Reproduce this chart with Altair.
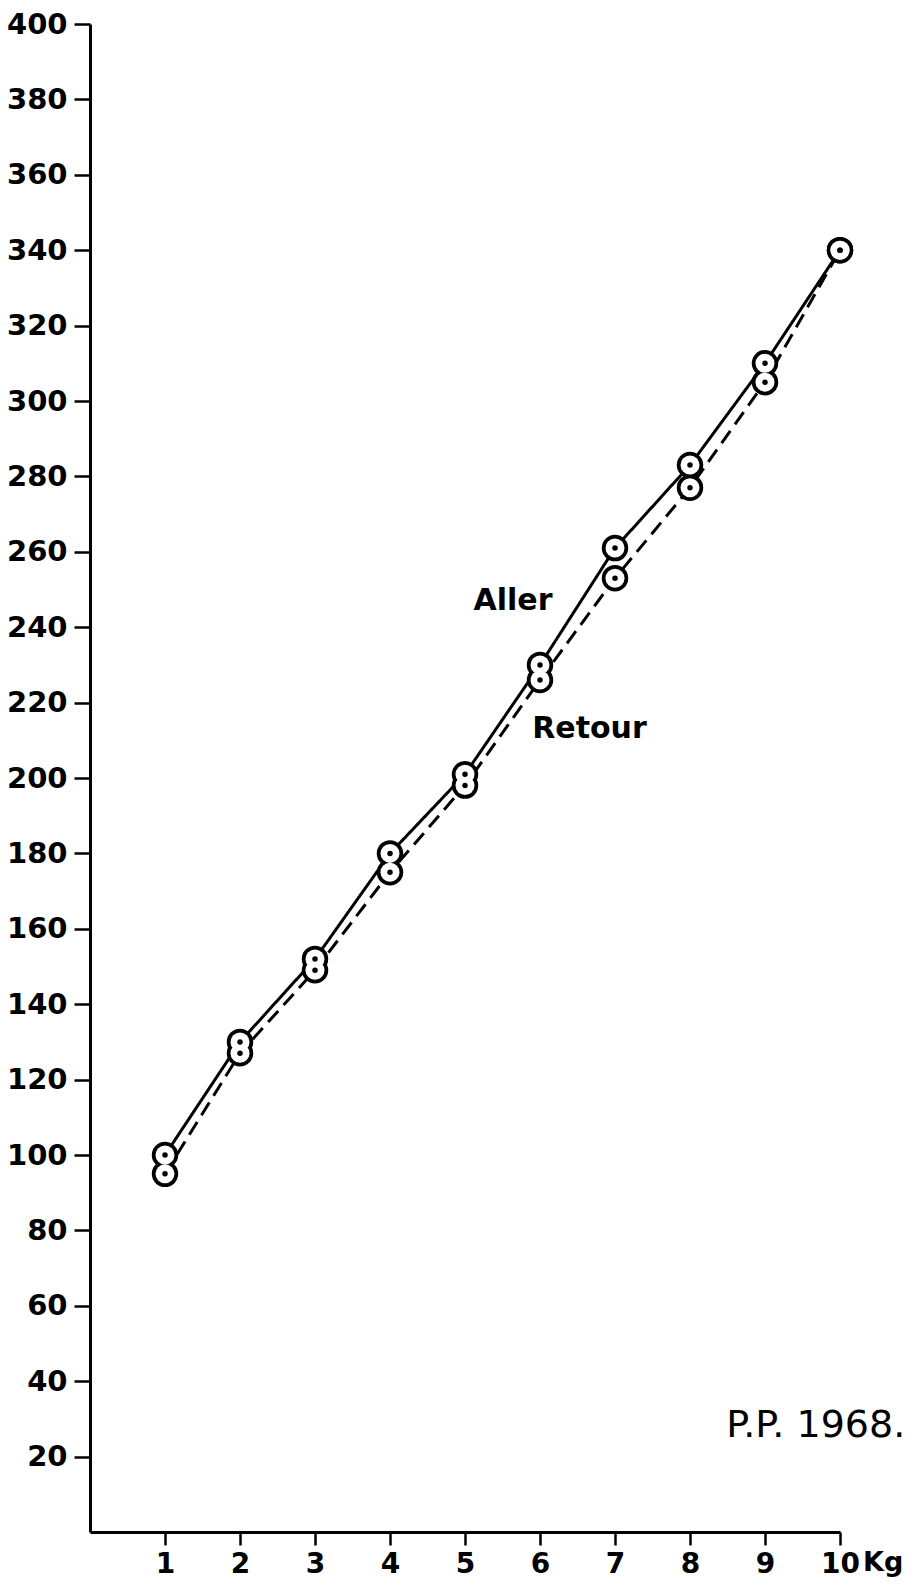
import altair as alt
import pandas as pd

kg = [1, 2, 3, 4, 5, 6, 7, 8, 9, 10]
aller = [100, 130, 152, 180, 201, 230, 261, 283, 310, 340]
retour = [95, 127, 149, 175, 198, 226, 253, 277, 305, 340]
y_ticks = list(range(20, 401, 20))
x_ticks = kg

ann_text = ["Aller", "Retour"]
ann_x = [5.64, 6.66]
ann_y = [247, 213]

sig_text = ["P.P. 1968."]
sig_x = [10.87]
sig_y = [28]

FONT = "DejaVu Sans"

rows = []
for k, a, r in zip(kg, aller, retour):
    rows.append({"kg": k, "v": a, "serie": "Aller"})
    rows.append({"kg": k, "v": r, "serie": "Retour"})
df = pd.DataFrame(rows)

xs = alt.Scale(domain=[0, 10], nice=False, zero=False)
ys = alt.Scale(domain=[0, 400], nice=False)

x_enc = alt.X("kg:Q", scale=xs, axis=alt.Axis(
    values=x_ticks, format="d", title=None, grid=False, domainColor="black", domainWidth=3,
    tickColor="black", tickWidth=2.5, tickSize=13, labelFont=FONT, labelFontSize=28,
    labelColor="black", labelPadding=5, labelFontWeight="bold", labelFlush=False))
y_enc = alt.Y("v:Q", scale=ys, axis=alt.Axis(
    values=y_ticks, format="d", title=None, grid=False, domainColor="black", domainWidth=3,
    tickColor="black", tickWidth=2.5, tickSize=16, labelFont=FONT, labelFontSize=29,
    labelColor="black", labelPadding=7, labelFontWeight="bold", labelFlush=False))

base = alt.Chart(df)

lines = base.mark_line(color="black", strokeWidth=3).encode(
    x=x_enc, y=y_enc, detail="serie:N",
    strokeDash=alt.StrokeDash("serie:N", scale=alt.Scale(domain=["Aller", "Retour"], range=[[1, 0], [15, 8]]), legend=None),
)
outer = base.mark_point(shape="circle", filled=True, color="black", opacity=1, size=700).encode(
    x=alt.X("kg:Q", scale=xs), y=alt.Y("v:Q", scale=ys))
inner = base.mark_point(shape="circle", filled=True, color="white", opacity=1, size=361).encode(
    x=alt.X("kg:Q", scale=xs), y=alt.Y("v:Q", scale=ys))
dots = base.mark_point(shape="circle", filled=True, color="black", opacity=1, size=30).encode(
    x=alt.X("kg:Q", scale=xs), y=alt.Y("v:Q", scale=ys))

ann = alt.Chart(pd.DataFrame({"t": ann_text, "x": ann_x, "y": ann_y})).mark_text(
    font=FONT, fontSize=30, fontWeight="bold", color="black", align="center", baseline="middle").encode(
    x=alt.X("x:Q", scale=xs), y=alt.Y("y:Q", scale=ys), text="t:N")
sig = alt.Chart(pd.DataFrame({"t": sig_text, "x": sig_x, "y": sig_y})).mark_text(
    font=FONT, fontSize=38, color="black", align="right", baseline="middle").encode(
    x=alt.X("x:Q", scale=xs), y=alt.Y("y:Q", scale=ys), text="t:N")
kgl = alt.Chart(pd.DataFrame({"t": ["Kg"], "x": [10], "y": [0]})).mark_text(
    font=FONT, fontSize=27, fontWeight="bold", color="black", align="left", baseline="top", dx=23, dy=18).encode(
    x=alt.X("x:Q", scale=xs), y=alt.Y("y:Q", scale=ys), text="t:N")

chart = alt.layer(lines, outer, inner, dots, ann, sig, kgl).properties(
    width=750, height=1508,
    autosize=alt.AutoSizeParams(type="none"),
    padding={"left": 82, "top": 16, "right": 65, "bottom": 53},
    background="white",
).configure_view(stroke=None)

chart.save("out.html", embed_options={"renderer": "svg", "actions": False})
